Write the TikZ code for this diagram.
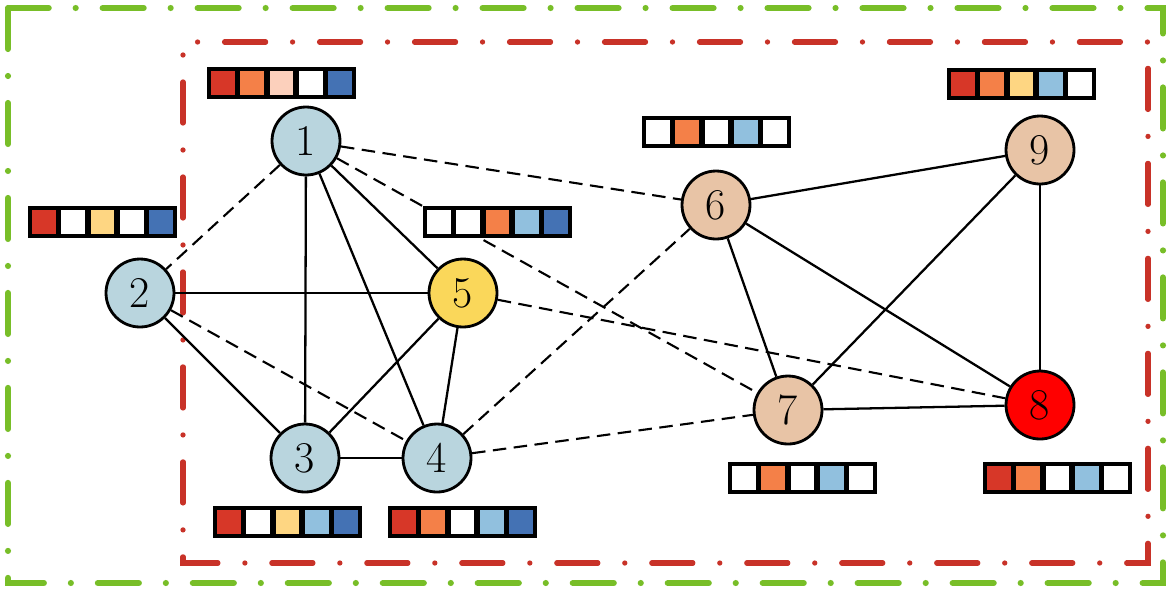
\documentclass[tikz,border=0pt]{standalone}
\usepackage{tikz}
\definecolor{gm-green}{RGB}{120,190,40}
\definecolor{gm-red}{RGB}{200,50,40}
\definecolor{gm-blue}{RGB}{185,213,222}
\definecolor{gm-yellow}{RGB}{250,215,90}
\definecolor{gm-tan}{RGB}{232,196,166}
\definecolor{gm-hot}{RGB}{255,0,0}
\definecolor{c-red}{RGB}{215,55,40}
\definecolor{c-orange}{RGB}{244,128,72}
\definecolor{c-pink}{RGB}{252,208,188}
\definecolor{c-yellow}{RGB}{254,214,130}
\definecolor{c-lblue}{RGB}{145,192,222}
\definecolor{c-blue}{RGB}{68,114,180}
\definecolor{c-white}{RGB}{255,255,255}

\tikzset{
    vertex/.style={circle, draw, line width=1.6pt, minimum size=1.36cm, inner sep=0pt,
        font=\fontsize{25}{28}\selectfont},
    solidedge/.style={line width=1.3pt},
    dashedge/.style={line width=1.2pt, dash pattern=on 0.27cm off 0.15cm},
    frame/.style={line cap=round, dash pattern=on 0.82cm off 0.54cm on 0cm off 0.54cm},
    cell/.style={draw, line width=2.3pt, minimum size=0.56cm, inner sep=0pt}
}

% colour bar: x, y of the left end, five colours
\newcommand{\colbar}[4]{%
    \foreach \c [count=\i] in {#4} {
        \node[cell, fill=c-\c] (#1-\i) at ({#2+(\i-1)*29.4+14.7},#3) {};
    }%
}

\begin{document}
\begin{tikzpicture}[x=0.02cm, y=-0.02cm]
    \useasboundingbox (0,0) rectangle (1172,593);

    % frames
    \draw[frame, gm-green, line width=3.5pt] (8,8) rectangle (1163,583);
    \draw[frame, gm-red, line width=3pt, dash phase=1.1cm] (183,42) rectangle (1148,563);

    % vertices
    \node[vertex, fill=gm-blue] (n1) at (306,141) {1};
    \node[vertex, fill=gm-blue] (n2) at (140,293) {2};
    \node[vertex, fill=gm-blue] (n3) at (305,458) {3};
    \node[vertex, fill=gm-blue] (n4) at (437,458) {4};
    \node[vertex, fill=gm-yellow] (n5) at (463,293) {5};
    \node[vertex, fill=gm-tan] (n6) at (716,205) {6};
    \node[vertex, fill=gm-tan] (n7) at (788,410) {7};
    \node[vertex, fill=gm-hot] (n8) at (1040,405) {8};
    \node[vertex, fill=gm-tan] (n9) at (1040,150) {9};

    % edges
    \foreach \a/\b in {n1/n3, n1/n4, n1/n5, n2/n5, n2/n3, n3/n4, n3/n5, n4/n5,
                       n6/n9, n6/n7, n6/n8, n7/n8, n7/n9, n9/n8}
        \draw[solidedge] (\a) -- (\b);
    \foreach \a/\b in {n1/n2, n1/n6, n1/n7, n2/n4, n4/n6, n4/n7, n5/n8}
        \draw[dashedge] (\a) -- (\b);

    % colour bars
    \colbar{bar1}{208}{83}{red,orange,pink,white,blue}
    \colbar{bar2}{29}{222}{red,white,yellow,white,blue}
    \colbar{bar5}{424}{222}{white,white,orange,lblue,blue}
    \colbar{bar6}{643}{132}{white,orange,white,lblue,white}
    \colbar{bar9}{948}{84}{red,orange,yellow,lblue,white}
    \colbar{bar7}{729}{478}{white,orange,white,lblue,white}
    \colbar{bar8}{984}{478}{red,orange,white,lblue,white}
    \colbar{bar3}{214}{522}{red,white,yellow,lblue,blue}
    \colbar{bar4}{389}{522}{red,orange,white,lblue,blue}
\end{tikzpicture}
\end{document}
